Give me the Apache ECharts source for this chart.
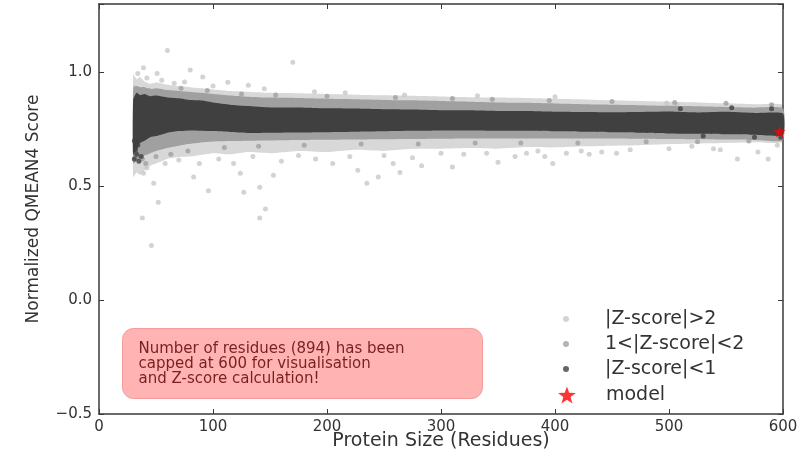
<!DOCTYPE html>
<html>
<head>
<meta charset="utf-8">
<script src="https://cdn.jsdelivr.net/npm/echarts@6/dist/echarts.min.js"></script>
<style>
  html, body { margin: 0; padding: 0; background: #fff; }
  #chart { width: 809px; height: 456px; }
</style>
</head>
<body>
<div id="chart"></div>
<script>
// Reference set: protein size vs normalized QMEAN4 score

// sizes at which the dense clouds are traced
const sizeSteps = [30, 33, 36, 40, 45, 50, 60, 70, 80, 90, 100, 115, 130, 150, 175, 200, 225, 250, 275, 300, 325, 350, 375, 400, 425, 450, 475, 500, 525, 550, 575, 600];

// core of the |Z-score|<1 cloud
const darkUpper = [0.88, 0.91, 0.90, 0.905, 0.895, 0.898, 0.89, 0.886, 0.878, 0.876, 0.868, 0.858, 0.852, 0.846, 0.846, 0.842, 0.841, 0.838, 0.837, 0.834, 0.833, 0.83, 0.83, 0.827, 0.826, 0.825, 0.826, 0.828, 0.824, 0.827, 0.822, 0.82];
const darkLower = [0.64, 0.66, 0.69, 0.70, 0.715, 0.72, 0.735, 0.742, 0.745, 0.744, 0.742, 0.738, 0.734, 0.735, 0.736, 0.737, 0.739, 0.741, 0.743, 0.745, 0.745, 0.744, 0.743, 0.741, 0.739, 0.737, 0.735, 0.732, 0.73, 0.728, 0.726, 0.724];

// core of the 1<|Z-score|<2 cloud
const midUpper = [0.92, 0.94, 0.935, 0.935, 0.925, 0.93, 0.922, 0.918, 0.914, 0.91, 0.905, 0.898, 0.893, 0.889, 0.887, 0.884, 0.882, 0.879, 0.877, 0.874, 0.871, 0.868, 0.866, 0.863, 0.86, 0.858, 0.856, 0.853, 0.851, 0.848, 0.845, 0.842];
const midLower = [0.60, 0.61, 0.625, 0.635, 0.645, 0.655, 0.668, 0.678, 0.686, 0.692, 0.696, 0.698, 0.70, 0.701, 0.703, 0.704, 0.705, 0.706, 0.707, 0.708, 0.709, 0.71, 0.71, 0.71, 0.71, 0.709, 0.708, 0.707, 0.706, 0.705, 0.703, 0.702];

// sparse haze of |Z-score|>2 structures around the clouds
const hazeUpper = [0.99, 0.97, 0.98, 0.96, 0.95, 0.955, 0.945, 0.94, 0.935, 0.93, 0.925, 0.918, 0.915, 0.91, 0.908, 0.905, 0.902, 0.899, 0.897, 0.894, 0.891, 0.889, 0.887, 0.884, 0.881, 0.877, 0.874, 0.871, 0.868, 0.864, 0.86, 0.857];
const hazeLower = [0.54, 0.56, 0.55, 0.57, 0.59, 0.60, 0.62, 0.628, 0.63, 0.638, 0.645, 0.64, 0.65, 0.645, 0.655, 0.65, 0.66, 0.655, 0.664, 0.665, 0.668, 0.665, 0.672, 0.67, 0.675, 0.678, 0.68, 0.685, 0.688, 0.69, 0.693, 0.695];

// scattered structures, [size, score]
const outlierPoints = [
  [60, 1.096], [170, 1.044], [39, 1.02], [51, 0.995], [80, 1.01], [91, 0.98], [113, 0.957], [131, 0.943],
  [189, 0.915], [216, 0.91], [268, 0.9], [332, 0.897], [400, 0.893], [498, 0.865], [507, 0.858],
  [34, 0.995], [42, 0.975], [55, 0.965], [66, 0.952], [75, 0.958], [100, 0.94], [145, 0.928],
  [39, 0.557], [48, 0.513], [83, 0.54], [96, 0.48], [52, 0.43], [127, 0.474], [141, 0.496], [146, 0.40],
  [141, 0.36], [38, 0.36], [124, 0.557], [153, 0.548], [227, 0.57], [235, 0.513], [245, 0.54], [258, 0.60],
  [46, 0.24], [283, 0.59], [310, 0.584], [350, 0.605], [398, 0.60], [560, 0.62], [587, 0.62], [578, 0.65],
  [264, 0.56], [441, 0.65], [454, 0.645], [466, 0.66], [375, 0.645], [391, 0.63], [410, 0.645],
  [423, 0.655], [539, 0.665], [545, 0.66],
  [42, 0.58], [58, 0.6], [70, 0.615], [88, 0.6], [105, 0.62], [118, 0.6], [135, 0.63], [160, 0.61],
  [175, 0.635], [190, 0.62], [205, 0.6], [220, 0.63], [250, 0.635], [275, 0.625], [300, 0.645], [320, 0.64],
  [340, 0.645], [365, 0.63], [385, 0.655], [430, 0.64], [500, 0.665], [520, 0.675], [595, 0.68]
];
const midPoints = [
  [32, 0.93], [35, 0.90], [38, 0.62], [41, 0.60], [44, 0.92], [50, 0.63], [57, 0.91], [63, 0.64], [72, 0.93],
  [78, 0.655], [95, 0.92], [110, 0.67], [125, 0.905], [140, 0.675], [155, 0.9], [180, 0.68], [200, 0.895],
  [230, 0.685], [260, 0.89], [280, 0.685], [310, 0.885], [330, 0.69], [345, 0.882], [370, 0.69], [395, 0.876],
  [420, 0.69], [450, 0.872], [480, 0.695], [505, 0.868], [525, 0.695], [550, 0.864], [570, 0.698], [590, 0.858]
];
const corePoints = [
  [31, 0.62], [32, 0.66], [33, 0.64], [34, 0.68], [31, 0.70], [35, 0.61], [37, 0.63],
  [510, 0.84], [530, 0.72], [555, 0.845], [575, 0.715], [590, 0.84], [598, 0.715]
];

// the assessed model (size capped at 600)
const modelPoint = [[597, 0.74]];

const seriesNames = ['|Z-score|>2', '1<|Z-score|<2', '|Z-score|<1', 'model'];
const classColors = ['#c8c8c8', '#a0a0a0', '#404040'];
const hazeColor = '#d8d8d8';
const starPath = 'path://M0,-10L2.35,-3.24L9.51,-3.09L3.8,1.24L5.88,8.09L0,4.2L-5.88,8.09L-3.8,1.24L-9.51,-3.09L-2.35,-3.24Z';
const FONT = 'DejaVu Sans';

function bandSeries(upper, lower, color, z) {
  return {
    type: 'custom',
    silent: true,
    z: z,
    data: [[sizeSteps[0], lower[0]]],
    encode: { x: 0, y: 1 },
    renderItem: function (params, api) {
      const pts = [];
      for (let i = 0; i < sizeSteps.length; i++) pts.push(api.coord([sizeSteps[i], upper[i]]));
      for (let i = sizeSteps.length - 1; i >= 0; i--) pts.push(api.coord([sizeSteps[i], lower[i]]));
      return { type: 'polygon', shape: { points: pts, smooth: 0.15 }, style: { fill: color } };
    }
  };
}

function dotSeries(name, data, color, z) {
  return {
    name: name, type: 'scatter', data: data, z: z, silent: true,
    symbol: 'circle', symbolSize: 5,
    itemStyle: { color: color }
  };
}

const axisLineStyle = { color: '#3a3a3a', width: 1.5 };
const tickStyle = { show: true, inside: true, length: 5, lineStyle: { color: '#3a3a3a', width: 1 } };
const legendText = { fontFamily: FONT, fontSize: 19, color: '#333', lineHeight: 20 };

function dotLegend(i, top) {
  return {
    data: [{ name: seriesNames[i], icon: 'circle' }],
    left: 558, top: top, orient: 'vertical',
    itemWidth: 68, itemHeight: 6,
    selectedMode: false,
    textStyle: legendText
  };
}

const option = {
  backgroundColor: '#fff',
  animation: false,
  grid: { left: 99, right: 26, top: 4, bottom: 42, show: false, containLabel: false, outerBoundsMode: 'none' },
  xAxis: [
    {
      type: 'value', min: 0, max: 600, interval: 100, position: 'bottom',
      name: 'Protein Size (Residues)', nameLocation: 'middle', nameGap: 18, nameMoveOverlap: false,
      nameTextStyle: { fontFamily: FONT, fontSize: 19, color: '#333' },
      axisLine: { show: true, onZero: false, lineStyle: axisLineStyle },
      axisTick: tickStyle,
      axisLabel: { fontFamily: FONT, fontSize: 15, color: '#333', margin: 6 },
      splitLine: { show: false }
    },
    {
      type: 'value', min: 0, max: 600, interval: 100, position: 'top',
      axisLine: { show: true, onZero: false, lineStyle: axisLineStyle },
      axisTick: tickStyle, axisLabel: { show: false }, splitLine: { show: false }
    }
  ],
  yAxis: [
    {
      type: 'value', min: -0.5, max: 1.3, interval: 0.5, position: 'left',
      name: 'Normalized QMEAN4 Score', nameLocation: 'middle', nameGap: 57, nameMoveOverlap: false,
      nameTextStyle: { fontFamily: FONT, fontSize: 17, color: '#333' },
      axisLine: { show: true, onZero: false, lineStyle: axisLineStyle },
      axisTick: tickStyle,
      axisLabel: {
        fontFamily: FONT, fontSize: 15, color: '#333', margin: 7,
        formatter: function (v) {
          if (Math.abs(v * 2 - Math.round(v * 2)) > 1e-6) return '';
          return v.toFixed(1).replace('-', '\u2212');
        }
      },
      splitLine: { show: false }
    },
    {
      type: 'value', min: -0.5, max: 1.3, interval: 0.5, position: 'right',
      axisLine: { show: true, onZero: false, lineStyle: axisLineStyle },
      axisTick: tickStyle, axisLabel: { show: false }, splitLine: { show: false }
    }
  ],
  legend: [
    dotLegend(0, 304),
    dotLegend(1, 329),
    dotLegend(2, 354),
    {
      data: [{ name: seriesNames[3], icon: starPath }],
      left: 553, top: 380, orient: 'vertical',
      itemWidth: 68, itemHeight: 17,
      selectedMode: false,
      textStyle: legendText
    }
  ],
  series: [
    bandSeries(hazeUpper, hazeLower, hazeColor, 0),
    dotSeries(seriesNames[0], outlierPoints, classColors[0], 1),
    bandSeries(midUpper, midLower, classColors[1], 2),
    dotSeries(seriesNames[1], midPoints, classColors[1], 3),
    bandSeries(darkUpper, darkLower, classColors[2], 4),
    dotSeries(seriesNames[2], corePoints, classColors[2], 5),
    {
      name: seriesNames[3], type: 'scatter', data: modelPoint, z: 6, silent: true,
      symbol: starPath, symbolSize: 12,
      itemStyle: { color: '#ff0000' }
    }
  ],
  graphic: [
    {
      type: 'group', left: 122, top: 328,
      children: [
        {
          type: 'rect',
          shape: { x: 0, y: 0, width: 360, height: 70, r: 11 },
          style: { fill: '#ffb3b3', stroke: '#f29c9c', lineWidth: 1 }
        },
        {
          type: 'text', x: 16, y: 13,
          style: {
            text: 'Number of residues (894) has been\ncapped at 600 for visualisation\nand Z-score calculation!',
            font: '15px "DejaVu Sans"', lineHeight: 15, fill: '#7a1f1f'
          }
        }
      ]
    }
  ]
};

const chart = echarts.init(document.getElementById('chart'), null, { renderer: 'canvas' });
chart.setOption(option);
</script>
</body>
</html>
